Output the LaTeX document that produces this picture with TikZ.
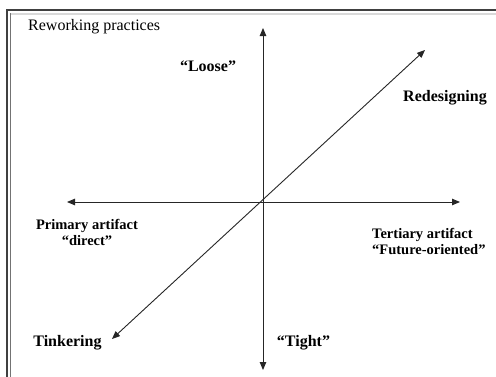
\documentclass[tikz,border=0pt]{standalone}
\usepackage{fontspec}
\setmainfont{Liberation Serif}
\usetikzlibrary{arrows.meta}
\begin{document}
\begin{tikzpicture}[x=1pt,y=1pt,
  axis/.style={draw=black!85,line width=0.9pt,{Triangle[length=8pt,width=6.5pt]}-{Triangle[length=8pt,width=6.5pt]}},
  lab/.style={font=\fontsize{16}{18}\selectfont\bfseries,inner sep=0pt},
  lab2/.style={font=\fontsize{14.5}{16}\selectfont\bfseries,inner sep=0pt},
  ttl/.style={font=\fontsize{16}{18}\selectfont,inner sep=0pt,anchor=west}]
\useasboundingbox (0,0) rectangle (496,376);
\fill[white] (0,0) rectangle (496,376);
% frame
\draw[black!75,line width=1.3pt] (7,-5) -- (7,366) -- (500,366);
\draw[black!55,line width=0.8pt] (10.5,-5) -- (10.5,362.5);
\draw[black!15,line width=1.2pt] (10.5,362) -- (500,362);
% coordinates
\coordinate (top) at (263,348);
\coordinate (bot) at (263,6);
\coordinate (lft) at (67,174);
\coordinate (rgt) at (460,174);
\coordinate (ur) at (425,326);
\coordinate (ll) at (112,37);
\draw[axis] (bot) -- (top);
\draw[axis] (lft) -- (rgt);
\draw[axis] (ll) -- (ur);
% labels
\node[ttl] (title) at (28,349) {Reworking practices};
\node[lab] (loose) at (208,310) {“Loose”};
\node[lab] (redes) at (445,278) {Redesigning};
\node[lab2,align=center] (prim) at (87,144) {Primary artifact\\“direct”};
\node[lab2,align=left,anchor=west] (tert) at (372,135) {Tertiary artifact\\“Future-oriented”};
\node[lab] (tink) at (67.5,33) {Tinkering};
\node[lab] (tight) at (303.5,33) {“Tight”};
\end{tikzpicture}
\end{document}
